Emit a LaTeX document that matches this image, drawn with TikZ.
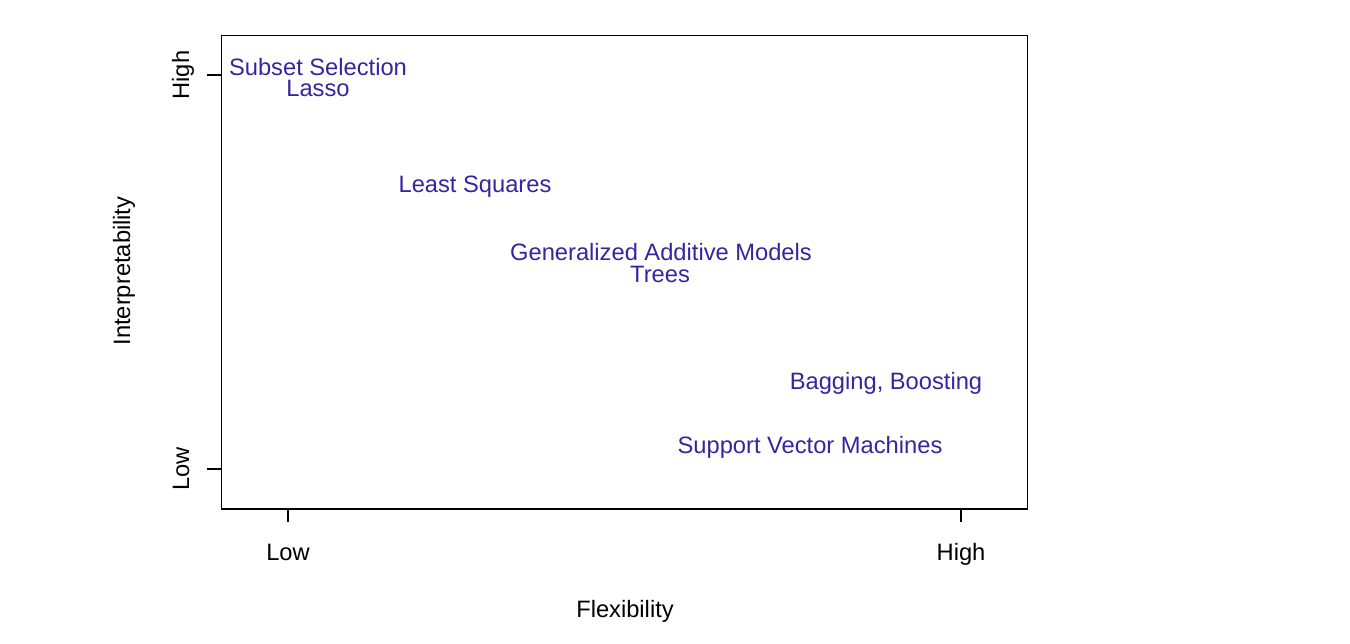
\documentclass[tikz,border=0pt]{standalone}
\usepackage{fontspec}
\setmainfont{Liberation Sans}
\usepackage{tikz}
\usetikzlibrary{calc}

\definecolor{methodblue}{RGB}{52,38,158}

\begin{document}
\begin{tikzpicture}[x=1pt, y=-1pt, line width=1.3pt,
        every node/.style={font=\fontsize{23.7}{28}\selectfont, inner sep=0pt},
        method/.style={anchor=base, text=methodblue},
        axislabel/.style={anchor=base}]
    \useasboundingbox (0,0) rectangle (1350,643);
    % plot frame
    \draw (221.5,35.5) rectangle (1027.5,509);
    % ticks
    \draw (288,509) -- (288,522);
    \draw (961,509) -- (961,522);
    \draw (221.5,75) -- (207,75);
    \draw (221.5,469) -- (207,469);
    % axis labels
    \node[axislabel] (xlow) at (288,560) {Low};
    \node[axislabel] (xhigh) at (961,560) {High};
    \node[axislabel] (xlab) at (625,617) {Flexibility};
    \node[axislabel, rotate=90] (yhigh) at (189,75) {High};
    \node[axislabel, rotate=90] (ylow) at (189,469) {Low};
    \node[axislabel, rotate=90] (ylab) at (130,271) {Interpretability};
    % methods
    \node[method] (subset) at (318,75) {Subset Selection};
    \node[method] (lasso) at (318,96) {Lasso};
    \node[method] (ls) at (475,192) {Least Squares};
    \node[method] (gam) at (661,260) {Generalized Additive Models};
    \node[method] (trees) at (660,282) {Trees};
    \node[method] (bag) at (886,389) {Bagging, Boosting};
    \node[method] (svm) at (810,453) {Support Vector Machines};
\end{tikzpicture}
\end{document}
